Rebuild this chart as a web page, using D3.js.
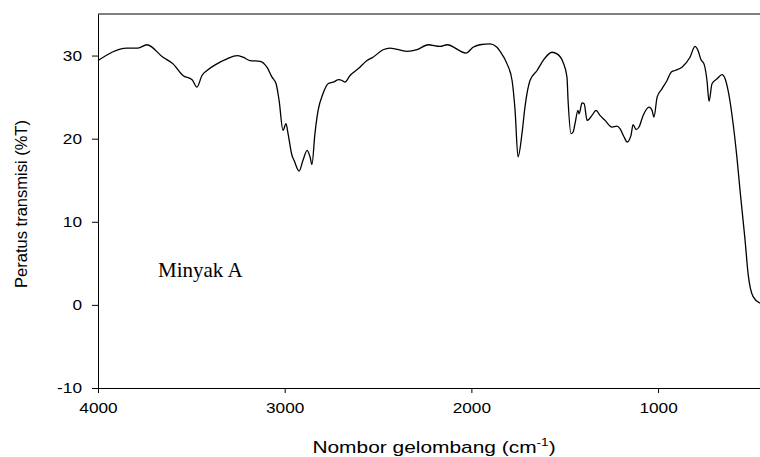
<!DOCTYPE html>
<html>
<head>
<meta charset="utf-8">
<script src="https://cdn.jsdelivr.net/npm/d3@7"></script>
<style>
  body { margin: 0; background: #fff; }
  svg { display: block; }
  .tick text { font-family: "Liberation Sans", Arial, sans-serif; font-size: 14px; fill: #000; }
</style>
</head>
<body>
<div id="chart"></div>
<script>
// spectrum: wavenumber (cm-1) and %T
var wavenumber = [4000, 3845, 3786, 3738, 3652, 3598, 3545, 3496, 3470, 3443, 3416, 3363, 3309, 3255, 3223, 3186,
  3132, 3095, 3068, 3046, 3030, 3009, 2993, 2982, 2961, 2950, 2923, 2902, 2880, 2864, 2854, 2838, 2821, 2795,
  2768, 2741, 2709, 2693, 2677, 2650, 2607, 2559, 2527, 2473, 2436, 2345, 2291, 2232, 2168, 2130, 2029, 1991,
  1954, 1900, 1863, 1846, 1809, 1782, 1766, 1750, 1729, 1713, 1686, 1648, 1616, 1568, 1541, 1509, 1488, 1482,
  1466, 1455, 1445, 1429, 1423, 1407, 1396, 1380, 1354, 1332, 1311, 1284, 1247, 1220, 1204, 1182, 1166, 1145,
  1134, 1118, 1102, 1080, 1048, 1032, 1022, 1005, 979, 952, 930, 909, 872, 829, 802, 786, 770, 754, 738, 727,
  711, 684, 657, 641, 625, 598, 577, 561, 534, 518, 491, 454];
var transmittance = [29.4, 30.9, 30.9, 31.3, 29.8, 29.0, 27.6, 27.1, 26.2, 27.6, 28.2, 29.0, 29.6, 30.0, 29.8, 29.4,
  29.3, 28.6, 27.4, 26.6, 24.6, 21.0, 21.8, 20.6, 18.0, 17.4, 16.1, 17.4, 18.6, 17.8, 16.9, 20.6, 23.4, 25.4,
  26.6, 26.8, 27.1, 27.0, 26.8, 27.6, 28.4, 29.4, 29.8, 30.7, 30.9, 30.5, 30.7, 31.3, 31.1, 31.3, 30.3, 31.0,
  31.3, 31.4, 31.0, 30.5, 29.0, 27.0, 23.4, 17.8, 20.6, 23.8, 27.0, 28.2, 29.4, 30.4, 30.2, 29.2, 27.4, 24.6,
  20.6, 20.8, 21.8, 23.4, 23.0, 24.3, 24.2, 22.2, 22.8, 23.4, 22.8, 22.2, 21.4, 21.5, 21.2, 20.2, 19.6, 20.4,
  21.7, 21.1, 21.4, 22.8, 23.8, 23.4, 22.6, 25.0, 26.0, 27.0, 28.0, 28.2, 28.6, 29.8, 31.1, 30.6, 29.5, 29.0, 27.0, 24.5,
  26.6, 27.2, 27.7, 27.2, 25.8, 21.8, 17.6, 13.8, 7.8, 3.8, 1.0, 0.2];
var xTicks = [4000, 3000, 2000, 1000];
var yTicks = [-10, 0, 10, 20, 30];

const width = 760;
const height = 457;
var plotLeft = 98, plotRight = 760, plotTop = 14, plotBottom = 388;
var stretch = 1.23; // the original picture is a bit wide, text looks stretched

var svg = d3.select('#chart').append('svg')
  .attr('width', width)
  .attr('height', height);

var x = d3.scaleLinear().domain([4000, 454]).range([plotLeft, plotRight]);
var y = d3.scaleLinear().domain([-10, 35]).range([plotBottom, plotTop]);

var data = wavenumber.map(function (w, i) { return [w, transmittance[i]]; });

// frame line on top
svg.append('line')
  .attr('x1', plotLeft).attr('x2', plotRight)
  .attr('y1', plotTop).attr('y2', plotTop)
  .attr('stroke', '#000').attr('stroke-width', 1);

var plainNum = function (d) { return String(d); };

var xAxis = svg.append('g')
  .attr('transform', 'translate(0,' + plotBottom + ')')
  .call(d3.axisBottom(x).tickValues(xTicks).tickFormat(plainNum)
    .tickSize(5).tickSizeOuter(0).tickPadding(10));

var yAxis = svg.append('g')
  .attr('transform', 'translate(' + plotLeft + ',0)')
  .call(d3.axisLeft(y).tickValues(yTicks).tickFormat(plainNum)
    .tickSize(6).tickSizeOuter(0).tickPadding(7));

[xAxis, yAxis].forEach(function (a) {
  a.select('.domain').attr('stroke', '#000');
  a.selectAll('.tick line').attr('stroke', '#000');
  a.selectAll('.tick text').attr('transform', 'scale(' + stretch + ',1)');
});

var line = d3.line()
  .x(function (d) { return x(d[0]); })
  .y(function (d) { return y(d[1]); })
  .curve(d3.curveMonotoneX);

svg.append('path')
  .datum(data)
  .attr('d', line)
  .attr('fill', 'none')
  .attr('stroke', '#000')
  .attr('stroke-width', 1.3);

// labels
svg.append('text')
  .attr('x', 158).attr('y', 277)
  .attr('font-family', '"Liberation Serif", "DejaVu Serif", serif')
  .attr('font-size', 21)
  .text('Minyak A');

var xl = svg.append('text')
  .attr('transform', 'translate(434,453) scale(' + stretch + ',1)')
  .attr('text-anchor', 'middle')
  .attr('font-family', '"Liberation Sans", Arial, sans-serif')
  .attr('font-size', 17);
xl.append('tspan').text('Nombor gelombang (cm');
xl.append('tspan').attr('dy', -7).attr('font-size', 11).text('-1');
xl.append('tspan').attr('dy', 7).text(')');

svg.append('text')
  .attr('transform', 'translate(27,204) rotate(-90)')
  .attr('text-anchor', 'middle')
  .attr('font-family', '"Liberation Sans", Arial, sans-serif')
  .attr('font-size', 16.5)
  .text('Peratus transmisi (%T)');
</script>
</body>
</html>
